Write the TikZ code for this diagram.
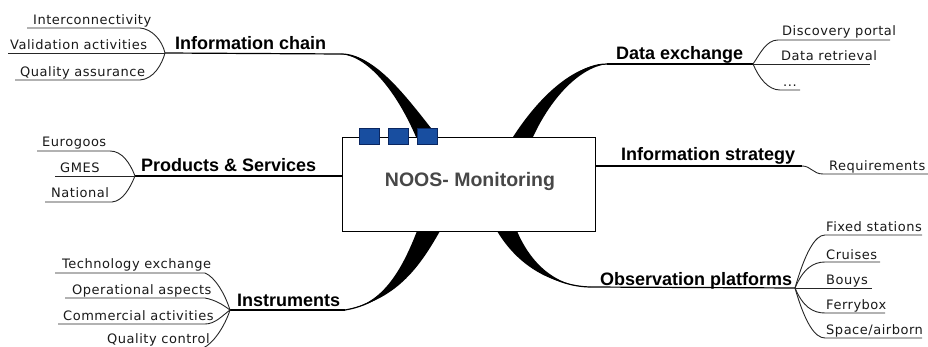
\documentclass[tikz,border=0pt]{standalone}
\usepackage{fontspec}
\setmainfont{Liberation Sans}
\newfontfamily\childfont[LetterSpace=4]{DejaVu Sans}
\newfontfamily\labfont{Liberation Sans}
\usetikzlibrary{calc}
\definecolor{sqfill}{RGB}{24,78,160}
\definecolor{sqedge}{RGB}{10,38,96}
\begin{document}
\begin{tikzpicture}[x=1pt,y=-1pt,
  leaf/.style={font=\childfont\fontsize{13}{15}\selectfont, anchor=base west, inner sep=0pt, text=black!90},
  lab/.style={font=\labfont\bfseries\fontsize{18}{20}\selectfont, anchor=base west, inner sep=0pt},
  twig/.style={line width=0.9pt, draw=black!85},
  mainline/.style={line width=1.2pt, draw=black},
  bough/.style={fill=black},
  bluesq/.style={draw=sqedge, fill=sqfill, line width=0.8pt, minimum width=20pt, minimum height=16pt, inner sep=0pt}]
\useasboundingbox (0,0) rectangle (928,347);
\clip (0,0) rectangle (928,347);

% ---------- junctions and branch ends
\coordinate (J1) at (165,53);  \coordinate (icE) at (341,54);
\coordinate (J2) at (753,64);  \coordinate (deE) at (607,64);
\coordinate (J3) at (135,176);
\coordinate (isJ) at (802,166);
\coordinate (J4) at (795,288); \coordinate (opE) at (590,287);
\coordinate (J5) at (230,310); \coordinate (inE) at (345,310);
% box attachment points
\coordinate (icA) at (416,137); \coordinate (icB) at (438,137);
\coordinate (deA) at (513,137); \coordinate (deB) at (533,137);
\coordinate (opA) at (497,231); \coordinate (opB) at (517,231);
\coordinate (inA) at (417,231); \coordinate (inB) at (440,231);

% ---------- tapered main branches
\fill[bough] (icE) .. controls +(34,0) and +(-33,-42) .. (icB) -- (icA) .. controls +(-18,-42) and +(29,3) .. (icE) -- cycle;
\draw[mainline] (icE) .. controls +(32,0) and +(-25,-42) .. ($(icA)!0.5!(icB)$);
\fill[bough] (deE) .. controls +(-32,0) and +(27,-42) .. (deA) -- (deB) .. controls +(17,-37) and +(-29,4) .. (deE) -- cycle;
\draw[mainline] (deE) .. controls +(-31,0) and +(22,-40) .. ($(deA)!0.5!(deB)$);
\fill[bough] (opE) .. controls +(-50,-3) and +(15,25) .. (opA) -- (opB) .. controls +(13,31) and +(-35,0) .. (opE) -- cycle;
\draw[mainline] (opE) .. controls +(-42,-1) and +(14,28) .. ($(opA)!0.5!(opB)$);
\fill[bough] (inE) .. controls +(50,-10) and +(-22,39) .. (inB) -- (inA) .. controls +(-17,44) and +(35,-5) .. (inE) -- cycle;
\draw[mainline] (inE) .. controls +(42,-7) and +(-20,41) .. ($(inA)!0.5!(inB)$);

% ---------- central box
\node[draw=black, line width=1pt, fill=white, minimum width=253pt, minimum height=94pt, anchor=north west, inner sep=0pt] (noos) at (342,137) {};
\node[font=\labfont\bfseries\fontsize{19.5}{22}\selectfont, text=black!72, anchor=base, inner sep=0pt] (noosT) at (470,187) {NOOS- Monitoring};
\node[bluesq] (sq1) at (369,136) {};
\node[bluesq] (sq2) at (398.5,136) {};
\node[bluesq] (sq3) at (427.5,136) {};

% ---------- main labels and their lines
\node[lab] (ic) at (175,50) {Information chain};
\draw[mainline] (J1) -- (icE);
\node[lab] (de) at (616,60) {Data exchange};
\draw[mainline] (deE) -- (J2);
\node[lab] (ps) at (141,172) {Products \& Services};
\draw[mainline] (J3) -- (J3 -| noos.west);
\node[lab] (is) at (621,161) {Information strategy};
\draw[mainline] (isJ -| noos.east) -- (isJ);
\node[lab] (op) at (600,285) {Observation platforms};
\draw[mainline] (opE) -- (J4);
\node[lab] (in) at (237,306) {Instruments};
\draw[mainline] (J5) -- (inE);

% ---------- Information chain children
\node[leaf] (c11) at (33,25) {Interconnectivity};
\node[leaf] (c12) at (10,50) {Validation activities};
\node[leaf] (c13) at (20,77) {Quality assurance};
\coordinate (u11a) at (27,28);  \coordinate (u11b) at (140,28);
\coordinate (u12a) at (8,53);
\coordinate (u13a) at (15,80);  \coordinate (u13b) at (140,80);
\draw[twig] (u11a) -- (u11b) .. controls +(12,1) and +(-3,-13) .. (J1);
\draw[twig] (u12a) -- (J1);
\draw[twig] (u13a) -- (u13b) .. controls +(14,-1) and +(-3,11) .. (J1);

% ---------- Data exchange children
\node[leaf] (c21) at (782,36) {Discovery portal};
\node[leaf] (c22) at (781,61) {Data retrieval};
\node[leaf] (c23) at (783,87) {...};
\coordinate (u21a) at (778,40); \coordinate (u21b) at (890,40);
\coordinate (u22b) at (870,64);
\coordinate (u23a) at (780,90); \coordinate (u23b) at (800,90);
\draw[twig] (J2) .. controls +(7,-10) and +(-12,0) .. (u21a) -- (u21b);
\draw[twig] (J2) -- (u22b);
\draw[twig] (J2) .. controls +(6,14) and +(-12,0) .. (u23a) -- (u23b);

% ---------- Products & Services children
\node[leaf] (c31) at (42,147) {Eurogoos};
\node[leaf] (c32) at (60,173) {GMES};
\node[leaf] (c33) at (51,198) {National};
\coordinate (u31a) at (37,151); \coordinate (u31b) at (110,151);
\coordinate (u32a) at (55,176);
\coordinate (u33a) at (45,202); \coordinate (u33b) at (112,202);
\draw[twig] (u31a) -- (u31b) .. controls +(12,0) and +(-5,-13) .. (J3);
\draw[twig] (u32a) -- (J3);
\draw[twig] (u33a) -- (u33b) .. controls +(11,-1) and +(-5,12) .. (J3);

% ---------- Information strategy child
\node[leaf] (c41) at (829,171) {Requirements};
\coordinate (u41a) at (823,174); \coordinate (u41b) at (930,174);
\draw[twig] (isJ) .. controls +(9,0) and +(-10,0) .. (u41a) -- (u41b);

% ---------- Observation platforms children
\node[leaf] (c51) at (826,232) {Fixed stations};
\node[leaf] (c52) at (826,259) {Cruises};
\node[leaf] (c53) at (826,284) {Bouys};
\node[leaf] (c54) at (826,309) {Ferrybox};
\node[leaf] (c55) at (826,334) {Space/airborn};
\coordinate (u51a) at (825,235); \coordinate (u51b) at (922,235);
\coordinate (u52a) at (825,262); \coordinate (u52b) at (880,262);
\coordinate (u53b) at (872,288);
\coordinate (u54a) at (825,313); \coordinate (u54b) at (885,313);
\coordinate (u55a) at (825,338); \coordinate (u55b) at (922,338);
\draw[twig] (J4) .. controls +(10,-35) and +(-10,0) .. (u51a) -- (u51b);
\draw[twig] (J4) .. controls +(8,-19) and +(-12,0) .. (u52a) -- (u52b);
\draw[twig] (J4) -- (u53b);
\draw[twig] (J4) .. controls +(8,19) and +(-12,0) .. (u54a) -- (u54b);
\draw[twig] (J4) .. controls +(10,35) and +(-10,0) .. (u55a) -- (u55b);

% ---------- Instruments children
\node[leaf] (c61) at (62,269) {Technology exchange};
\node[leaf] (c62) at (72,294) {Operational aspects};
\node[leaf] (c63) at (63,320) {Commercial activities};
\node[leaf] (c64) at (107,343) {Quality control};
\coordinate (u61a) at (55,273);  \coordinate (u61b) at (205,273);
\coordinate (u62a) at (65,298);  \coordinate (u62b) at (205,298);
\coordinate (u63a) at (58,324);  \coordinate (u63b) at (205,324);
\coordinate (u64a) at (100,348); \coordinate (u64b) at (203,348);
\draw[twig] (u61a) -- (u61b) .. controls +(10,4) and +(-5,-16) .. (J5);
\draw[twig] (u62a) -- (u62b) .. controls +(10,2) and +(-8,-6) .. (J5);
\draw[twig] (u63a) -- (u63b) .. controls +(10,0) and +(-8,6) .. (J5);
\draw[twig] (u64a) -- (u64b) .. controls +(10,-4) and +(-5,16) .. (J5);
\end{tikzpicture}
\end{document}
